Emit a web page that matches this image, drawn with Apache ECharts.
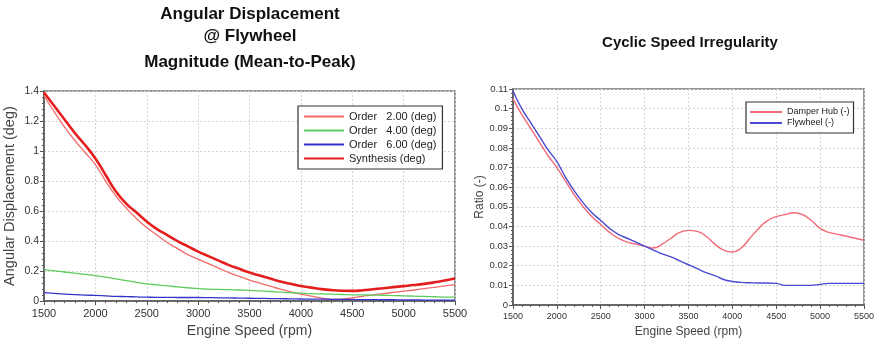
<!DOCTYPE html>
<html>
<head>
<meta charset="utf-8">
<script src="https://cdn.jsdelivr.net/npm/echarts@6/dist/echarts.min.js"></script>
<style>
  html, body { margin: 0; padding: 0; background: #fff; }
  #chart { width: 877px; height: 343px; }
</style>
</head>
<body>
<div id="chart"></div>
<script>
// engine speed (rpm), shared by both plots
const rpm = [1500, 1600, 1700, 1800, 1900, 2000, 2100, 2200, 2300, 2400, 2500,
  2600, 2700, 2800, 2900, 3000, 3100, 3200, 3300, 3400, 3500,
  3600, 3700, 3800, 3900, 4000, 4100, 4200, 4300, 4400, 4500,
  4600, 4700, 4800, 4900, 5000, 5100, 5200, 5300, 5400, 5500];

// angular displacement @ flywheel (deg)
const order2 = [1.37, 1.26, 1.16, 1.07, 0.99, 0.91, 0.80, 0.70, 0.62, 0.55, 0.49,
  0.44, 0.39, 0.35, 0.31, 0.28, 0.25, 0.22, 0.19, 0.165, 0.14,
  0.12, 0.10, 0.08, 0.062, 0.047, 0.033, 0.02, 0.012, 0.013, 0.022,
  0.032, 0.042, 0.05, 0.058, 0.066, 0.074, 0.083, 0.092, 0.101, 0.11];
const order4 = [0.21, 0.202, 0.194, 0.186, 0.178, 0.17, 0.16, 0.148, 0.136, 0.125, 0.115,
  0.108, 0.101, 0.095, 0.089, 0.083, 0.08, 0.078, 0.076, 0.074, 0.072,
  0.068, 0.064, 0.06, 0.056, 0.053, 0.05, 0.048, 0.046, 0.044, 0.042,
  0.041, 0.04, 0.039, 0.037, 0.035, 0.033, 0.031, 0.029, 0.027, 0.026];
const order6 = [0.057, 0.052, 0.047, 0.043, 0.04, 0.038, 0.035, 0.032, 0.03, 0.028, 0.026,
  0.025, 0.025, 0.024, 0.024, 0.024, 0.023, 0.022, 0.021, 0.02, 0.019,
  0.018, 0.017, 0.016, 0.015, 0.014, 0.013, 0.013, 0.012, 0.012, 0.011,
  0.01, 0.01, 0.009, 0.009, 0.008, 0.008, 0.007, 0.007, 0.006, 0.006];
const synthesis = [1.39, 1.30, 1.21, 1.12, 1.04, 0.95, 0.84, 0.73, 0.65, 0.59, 0.53,
  0.48, 0.44, 0.40, 0.365, 0.33, 0.30, 0.27, 0.24, 0.215, 0.19,
  0.17, 0.15, 0.13, 0.115, 0.10, 0.09, 0.08, 0.073, 0.069, 0.068,
  0.072, 0.079, 0.086, 0.093, 0.10, 0.107, 0.115, 0.125, 0.137, 0.15];

// cyclic speed irregularity (-)
const damperHub = [0.105, 0.097, 0.090, 0.083, 0.076, 0.070, 0.063, 0.056, 0.050, 0.045, 0.041,
  0.037, 0.034, 0.032, 0.031, 0.030, 0.029, 0.031, 0.034, 0.037, 0.038,
  0.0375, 0.035, 0.031, 0.028, 0.027, 0.029, 0.034, 0.039, 0.043, 0.045,
  0.046, 0.047, 0.046, 0.043, 0.039, 0.037, 0.036, 0.035, 0.034, 0.033];
const flywheel = [0.109, 0.100, 0.093, 0.086, 0.079, 0.073, 0.065, 0.058, 0.052, 0.047, 0.043,
  0.039, 0.036, 0.034, 0.032, 0.030, 0.028, 0.026, 0.0245, 0.0225, 0.0205,
  0.0185, 0.0165, 0.015, 0.013, 0.012, 0.0115, 0.0113, 0.0112, 0.0112, 0.011,
  0.010, 0.010, 0.010, 0.010, 0.0105, 0.011, 0.011, 0.011, 0.011, 0.011];

const pairs = (ys) => rpm.map((x, i) => [x, ys[i]]);

const chart = echarts.init(document.getElementById('chart'));

const font = 'Liberation Sans, Arial, sans-serif';
const gridLine = { show: true, lineStyle: { color: '#d4d4d4', type: [2, 2], width: 1 } };

function xAxisFor(gridIndex, labelSize, nameSize) {
  return {
    gridIndex, type: 'value', min: 1500, max: 5500, interval: 500,
    name: 'Engine Speed (rpm)', nameLocation: 'middle', nameGap: 21,
    nameTextStyle: { color: '#444', fontSize: nameSize, fontFamily: font },
    axisLine: { lineStyle: { color: '#555', width: 1.5 } },
    axisTick: { show: true, length: 4, lineStyle: { color: '#555' } },
    minorTick: { show: true, splitNumber: 5, length: 2, lineStyle: { color: '#555' } },
    axisLabel: { color: '#333', fontSize: labelSize, fontFamily: font, margin: 7, formatter: (v) => String(v) },
    splitLine: gridLine
  };
}

const titleFont = 'bold 17px ' + font;

const option = {
  animation: false,
  backgroundColor: '#fff',
  graphic: [
    { type: 'text', x: 250, y: 6, style: { text: 'Angular Displacement', font: titleFont, fill: '#111', align: 'center', verticalAlign: 'top' } },
    { type: 'text', x: 250, y: 28, style: { text: '@ Flywheel', font: titleFont, fill: '#111', align: 'center', verticalAlign: 'top' } },
    { type: 'text', x: 250, y: 54, style: { text: 'Magnitude (Mean-to-Peak)', font: titleFont, fill: '#111', align: 'center', verticalAlign: 'top' } },
    { type: 'text', x: 690, y: 35, style: { text: 'Cyclic Speed Irregularity', font: 'bold 15px ' + font, fill: '#111', align: 'center', verticalAlign: 'top' } }
  ],
  grid: [
    { left: 44, top: 91, width: 411, height: 212, show: true, borderColor: '#777', borderWidth: 1.5, backgroundColor: '#fff' },
    { left: 513, top: 89, width: 351, height: 217, show: true, borderColor: '#777', borderWidth: 1.5, backgroundColor: '#fff' }
  ],
  xAxis: [xAxisFor(0, 11, 14), xAxisFor(1, 9, 12)],
  yAxis: [
    {
      gridIndex: 0, type: 'value', min: 0, max: 1.4, interval: 0.2,
      name: 'Angular Displacement (deg)', nameLocation: 'middle', nameGap: 27,
      nameTextStyle: { color: '#444', fontSize: 14.5, fontFamily: font },
      axisLine: { show: true, lineStyle: { color: '#555', width: 1.5 } },
      axisTick: { show: true, length: 4, lineStyle: { color: '#555' } },
      minorTick: { show: true, splitNumber: 5, length: 2, lineStyle: { color: '#555' } },
      axisLabel: { color: '#333', fontSize: 10.5, fontFamily: font, margin: 5, formatter: (v) => String(+v.toFixed(1)) },
      splitLine: gridLine
    },
    {
      gridIndex: 1, type: 'value', min: 0, max: 0.11, interval: 0.01,
      name: 'Ratio (-)', nameLocation: 'middle', nameGap: 27,
      nameTextStyle: { color: '#444', fontSize: 12, fontFamily: font },
      axisLine: { show: true, lineStyle: { color: '#555', width: 1.5 } },
      axisTick: { show: true, length: 4, lineStyle: { color: '#555' } },
      minorTick: { show: true, splitNumber: 5, length: 2, lineStyle: { color: '#555' } },
      axisLabel: { color: '#333', fontSize: 9.5, fontFamily: font, margin: 5, formatter: (v) => String(+v.toFixed(2)) },
      splitLine: gridLine
    }
  ],
  legend: [
    {
      left: 298, top: 106, orient: 'vertical', icon: 'rect',
      itemWidth: 40, itemHeight: 2, itemGap: 1,
      padding: [4, 6, 4, 6], borderColor: '#333', borderWidth: 1.2, backgroundColor: '#fff',
      textStyle: { fontSize: 11, fontFamily: font, color: '#222', lineHeight: 13 },
      data: ['Order   2.00 (deg)', 'Order   4.00 (deg)', 'Order   6.00 (deg)', 'Synthesis (deg)']
    },
    {
      left: 746, top: 102, orient: 'vertical', icon: 'rect',
      itemWidth: 32, itemHeight: 2, itemGap: 1,
      padding: [5, 4, 5, 4], borderColor: '#333', borderWidth: 1.2, backgroundColor: '#fff',
      textStyle: { fontSize: 9, fontFamily: font, color: '#222', lineHeight: 10 },
      data: ['Damper Hub (-)', 'Flywheel (-)']
    }
  ],
  series: [
    { name: 'Order   2.00 (deg)', type: 'line', xAxisIndex: 0, yAxisIndex: 0, showSymbol: false, smooth: true,
      color: '#f26a6a', lineStyle: { width: 1.3 }, data: pairs(order2) },
    { name: 'Order   4.00 (deg)', type: 'line', xAxisIndex: 0, yAxisIndex: 0, showSymbol: false, smooth: true,
      color: '#5ccc5c', lineStyle: { width: 1.3 }, data: pairs(order4) },
    { name: 'Order   6.00 (deg)', type: 'line', xAxisIndex: 0, yAxisIndex: 0, showSymbol: false, smooth: true,
      color: '#3434c8', lineStyle: { width: 1.3 }, data: pairs(order6) },
    { name: 'Synthesis (deg)', type: 'line', xAxisIndex: 0, yAxisIndex: 0, showSymbol: false, smooth: true,
      color: '#e41e1e', lineStyle: { width: 2.6 }, data: pairs(synthesis) },
    { name: 'Damper Hub (-)', type: 'line', xAxisIndex: 1, yAxisIndex: 1, showSymbol: false, smooth: true,
      color: '#f26a78', lineStyle: { width: 1.4 }, data: pairs(damperHub) },
    { name: 'Flywheel (-)', type: 'line', xAxisIndex: 1, yAxisIndex: 1, showSymbol: false, smooth: true,
      color: '#4a4ad2', lineStyle: { width: 1.4 }, data: pairs(flywheel) }
  ]
};

chart.setOption(option);
</script>
</body>
</html>
